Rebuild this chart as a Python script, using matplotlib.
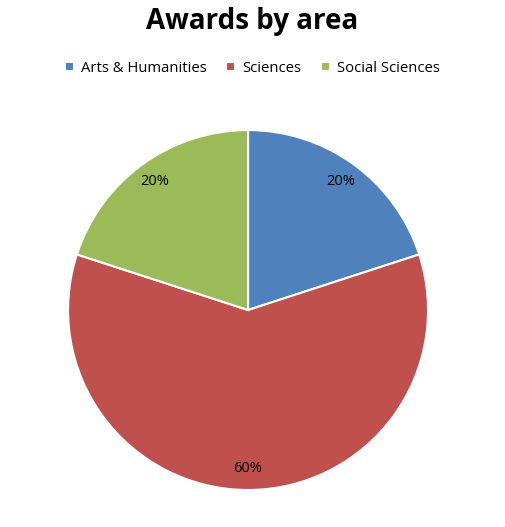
import matplotlib.pyplot as plt

categories = ["Arts & Humanities", "Sciences", "Social Sciences"]
shares = [20, 60, 20]
colors = ["#4F81BD", "#C0504D", "#9BBB59"]

plt.rcParams['font.family'] = ['Open Sans', 'DejaVu Sans']

fig = plt.figure(figsize=(5.05, 5.27), dpi=100)
ax = fig.add_axes([0.1347, 0.0702, 0.713, 0.683])

wedges, texts, autotexts = ax.pie(
    shares, colors=colors, startangle=90, counterclock=False,
    autopct='%d%%', pctdistance=0.88,
    wedgeprops={'edgecolor': 'white', 'linewidth': 1.5, 'clip_on': False},
    textprops={'fontsize': 10.5, 'color': 'black'})
ax.set_aspect('equal')
ax.set_xlim(-1, 1)
ax.set_ylim(-1, 1)

fig.text(0.5, 0.96, "Awards by area", ha='center', va='center',
         fontsize=20, fontweight='bold')

fig.legend(wedges, categories, loc='center', bbox_to_anchor=(0.5, 0.87),
           ncol=3, frameon=False, fontsize=10.7, handlelength=0.6,
           handleheight=0.6, columnspacing=1.3, handletextpad=0.5)

fig.savefig("out.png", dpi=100)
